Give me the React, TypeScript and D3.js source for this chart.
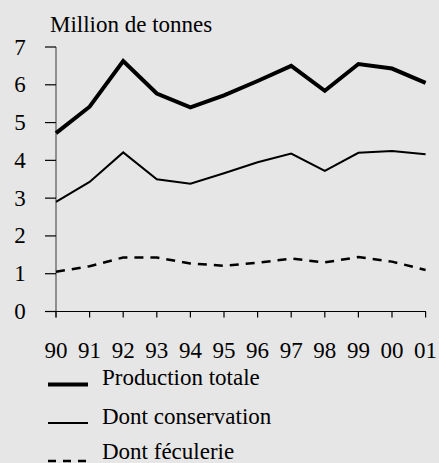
import { useEffect, useRef } from "react"
import * as d3 from "d3"

const years = ["90", "91", "92", "93", "94", "95", "96", "97", "98", "99", "00", "01"]
const totale = [4.72, 5.42, 6.63, 5.77, 5.4, 5.72, 6.1, 6.5, 5.84, 6.55, 6.43, 6.05]
const conservation = [2.9, 3.43, 4.21, 3.5, 3.38, 3.66, 3.95, 4.18, 3.72, 4.2, 4.25, 4.16]
const feculerie = [1.05, 1.2, 1.43, 1.43, 1.27, 1.21, 1.29, 1.4, 1.3, 1.44, 1.32, 1.1]
const yTicks = [0, 1, 2, 3, 4, 5, 6, 7]

const series = [
  { name: "Production totale", values: totale, width: 4, dash: "" },
  { name: "Dont conservation", values: conservation, width: 2, dash: "" },
  { name: "Dont féculerie", values: feculerie, width: 2.5, dash: "9,7" },
]

export default function App() {
  const svgRef = useRef(null)

  useEffect(() => {
    const width = 439
    const height = 463
    const font = "'Liberation Serif', 'DejaVu Serif', serif"
    const fs = 23

    const svg = d3.select(svgRef.current).attr("width", width).attr("height", height)
    svg.selectAll("*").remove()

    svg.append("rect").attr("width", width).attr("height", height).attr("fill", "#e6e6e6")

    const x = d3
      .scalePoint()
      .domain(years)
      .range([56, 425.6])
    const y = d3.scaleLinear().domain([0, 7]).range([311.5, 47])

    // y axis
    svg.append("line").attr("x1", 56).attr("x2", 56).attr("y1", y(7)).attr("y2", y(0) + 6)
      .attr("stroke", "#555").attr("stroke-width", 1.2)
    const yg = svg.append("g")
    yg.selectAll("line")
      .data(yTicks)
      .enter()
      .append("line")
      .attr("x1", 45)
      .attr("x2", 56)
      .attr("y1", (d) => y(d))
      .attr("y2", (d) => y(d))
      .attr("stroke", "#000")
      .attr("stroke-width", 1.2)
    yg.selectAll("text")
      .data(yTicks)
      .enter()
      .append("text")
      .attr("x", 20)
      .attr("y", (d) => y(d) + 7.5)
      .attr("text-anchor", "middle")
      .attr("font-family", font)
      .attr("font-size", fs)
      .text((d) => d)

    // x axis
    svg.append("line").attr("x1", 45).attr("x2", 426).attr("y1", y(0)).attr("y2", y(0))
      .attr("stroke", "#000").attr("stroke-width", 1.2)
    const xg = svg.append("g")
    xg.selectAll("line")
      .data(years)
      .enter()
      .append("line")
      .attr("x1", (d) => x(d))
      .attr("x2", (d) => x(d))
      .attr("y1", y(0))
      .attr("y2", y(0) + 6)
      .attr("stroke", "#000")
      .attr("stroke-width", 1.2)
    xg.selectAll("text")
      .data(years)
      .enter()
      .append("text")
      .attr("x", (d) => x(d))
      .attr("y", 358)
      .attr("text-anchor", "middle")
      .attr("font-family", font)
      .attr("font-size", fs)
      .text((d) => d)

    svg.append("text")
      .attr("x", 50)
      .attr("y", 31.5)
      .attr("font-family", font)
      .attr("font-size", fs)
      .text("Million de tonnes")

    const line = d3
      .line<number>()
      .x((_, i) => x(years[i]))
      .y((d) => y(d))

    series.forEach((s) => {
      svg.append("path")
        .attr("d", line(s.values))
        .attr("fill", "none")
        .attr("stroke", "#000")
        .attr("stroke-width", s.width)
        .attr("stroke-dasharray", s.dash)
        .attr("stroke-linejoin", "miter")
    })

    // legend
    const legendY = [384.5, 423, 461]
    const legend = svg.append("g")
    series.forEach((s, i) => {
      const ly = legendY[i]
      legend.append("line")
        .attr("x1", 48)
        .attr("x2", 88)
        .attr("y1", ly)
        .attr("y2", ly)
        .attr("stroke", "#000")
        .attr("stroke-width", s.width)
        .attr("stroke-dasharray", s.dash ? "8,7" : "")
      legend.append("text")
        .attr("x", 102)
        .attr("y", i === 2 ? 459 : ly + 0.5)
        .attr("font-family", font)
        .attr("font-size", fs)
        .text(s.name)
    })
  }, [])

  return (
    <div style={{ position: "fixed", left: 0, top: 0 }}>
      <svg ref={svgRef} style={{ display: "block" }}></svg>
    </div>
  )
}
